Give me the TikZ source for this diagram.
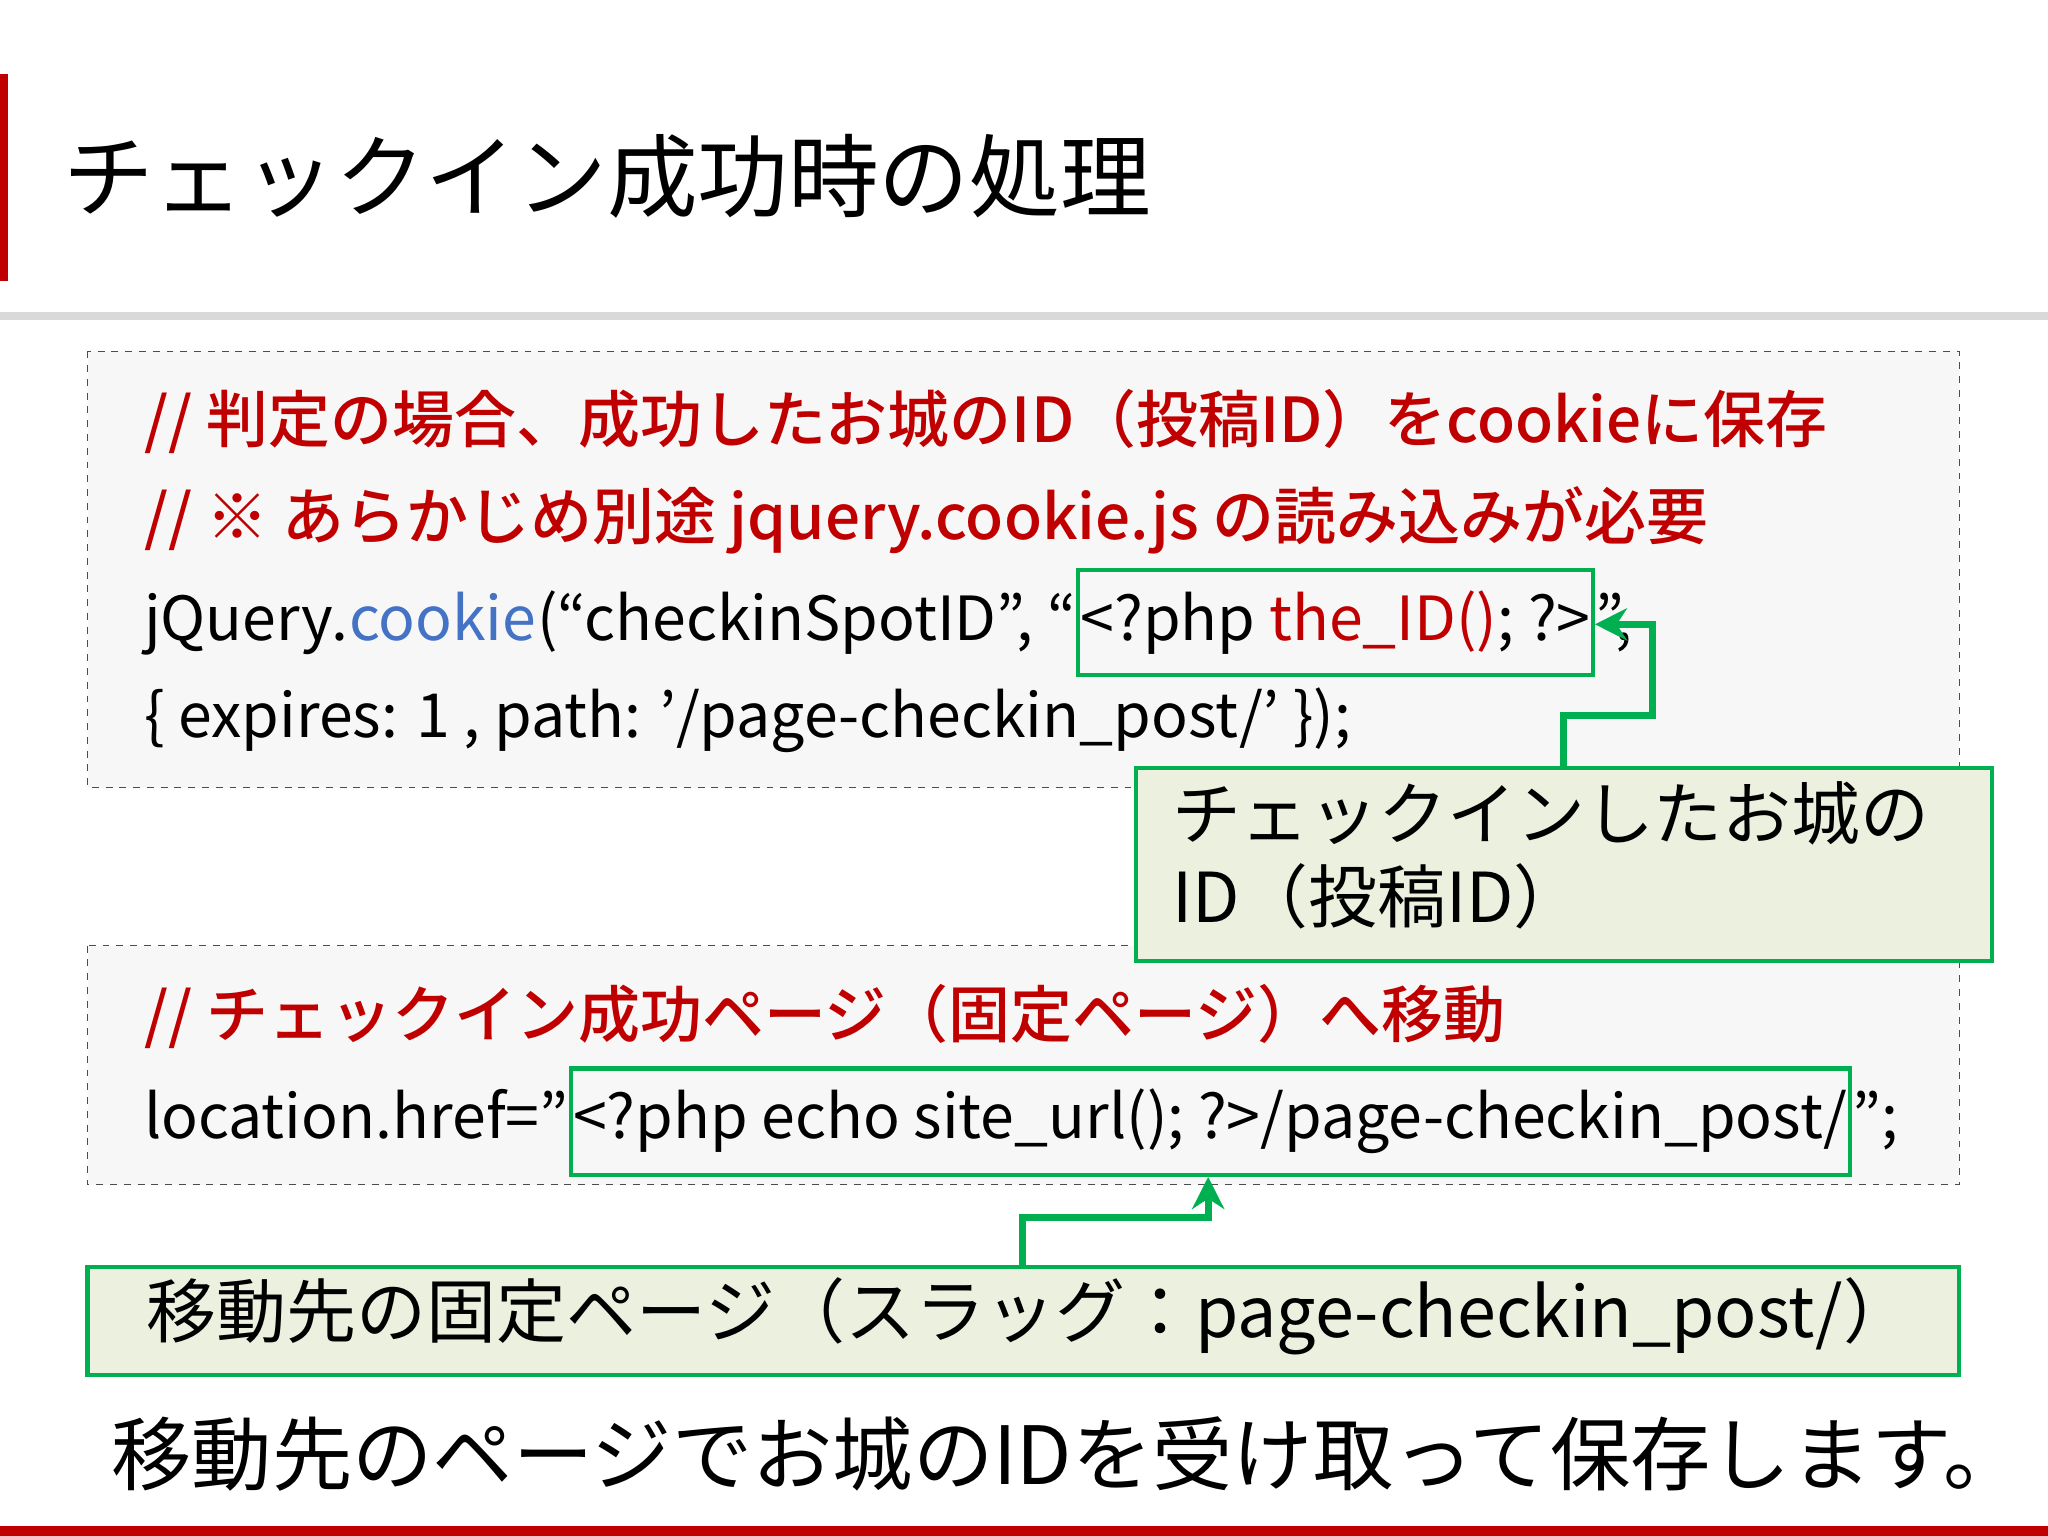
\documentclass[tikz,border=0pt]{standalone}
\usepackage{fontspec}
\setmainfont{Noto Sans CJK JP}
\newfontfamily\jpb{Noto Sans CJK JP Medium}
\usetikzlibrary{arrows.meta}
\definecolor{myred}{HTML}{C00000}
\definecolor{mygreen}{HTML}{00B050}
\definecolor{mylgreen}{HTML}{EBF1DE}
\definecolor{myblue}{HTML}{4472C4}
\begin{document}
\begin{tikzpicture}[x=0.02cm,y=-0.02cm,
  codebox/.style={draw=black!70,dashed,fill=black!3},
  gbox/.style={draw=mygreen,line width=1.8pt,fill=mylgreen},
  gframe/.style={draw=mygreen,line width=1.8pt,inner xsep=1pt,inner ysep=9pt},
  cmt/.style={text=myred,font=\fontsize{27}{30}\selectfont\jpb,anchor=west,inner sep=0},
  code/.style={font=\fontsize{26.5}{30}\selectfont,anchor=base west,inner sep=0},
  garrow/.style={draw=mygreen,line width=3pt,-{Stealth[length=14pt,width=14pt]}}]
\useasboundingbox (0,0) rectangle (1568,1176);
\fill[myred] (0,57) rectangle (6,215);
\node[anchor=west,inner sep=0,font=\fontsize{39.5}{44}\selectfont] (title) at (48,135) {チェックイン成功時の処理};
\fill[black!15] (0,239) rectangle (1568,245);
% box 1
\draw[codebox] (67,269) rectangle (1500,603);
\node[cmt] (c1) at (110,323) {// 判定の場合、成功したお城のID（投稿ID）をcookieに保存};
\node[cmt] (c2) at (110,398) {// ※ あらかじめ別途 jquery.cookie.js の読み込みが必要};
\node[code] (l3a) at (110,490) {jQuery.};
\node[code,text=myblue] (l3b) at (l3a.base east) {cookie};
\node[code] (l3c) at (l3b.base east) {(“checkinSpotID”, “};
\node[code,gframe] (l3d) at (l3c.base east) {<?php \textcolor{myred}{the\_ID()}; ?>};
\node[code] (l3e) at (l3d.base east) {”,};
\node[code] (l4) at (110,565) {\{ expires: 1 , path: ’/page-checkin\_post/’ \});};
% box 2
\draw[codebox] (67,724) rectangle (1500,907);
\node[cmt] (c3) at (110,778) {// チェックイン成功ページ（固定ページ）へ移動};
\node[code] (l6a) at (110,872) {location.href=”};
\node[code,gframe] (l6b) at (l6a.base east) {<?php echo site\_url(); ?>/page-checkin\_post/};
\node[code] (l6c) at (l6b.base east) {”;};
% callout 1
\draw[gbox] (870,588) rectangle (1525,736);
\node[anchor=north west,inner sep=0,align=left,font=\fontsize{30}{36}\selectfont] (t1) at (897,598) {チェックインしたお城の\\ID（投稿ID）};
\coordinate (a1) at (1197,588);
\draw[garrow] (a1) -- (1197,548) -- (1265,548) -- (1265,478) -- (l3d.east |- 0,478);
% callout 2
\draw[gbox] (67,970) rectangle (1500,1053);
\node[anchor=west,inner sep=0,font=\fontsize{30.5}{34}\selectfont] (t2) at (112,1008) {移動先の固定ページ（スラッグ：page-checkin\_post/）};
\coordinate (a2) at (783,970);
\draw[garrow] (a2) -- (783,932) -- (925,932) -- (l6b.south -| 925,0);
\node[anchor=west,inner sep=0,font=\fontsize{35}{40}\selectfont] (t3) at (85,1113) {移動先のページでお城のIDを受け取って保存します。};
\fill[myred] (0,1168) rectangle (1568,1176);
\end{tikzpicture}
\end{document}
